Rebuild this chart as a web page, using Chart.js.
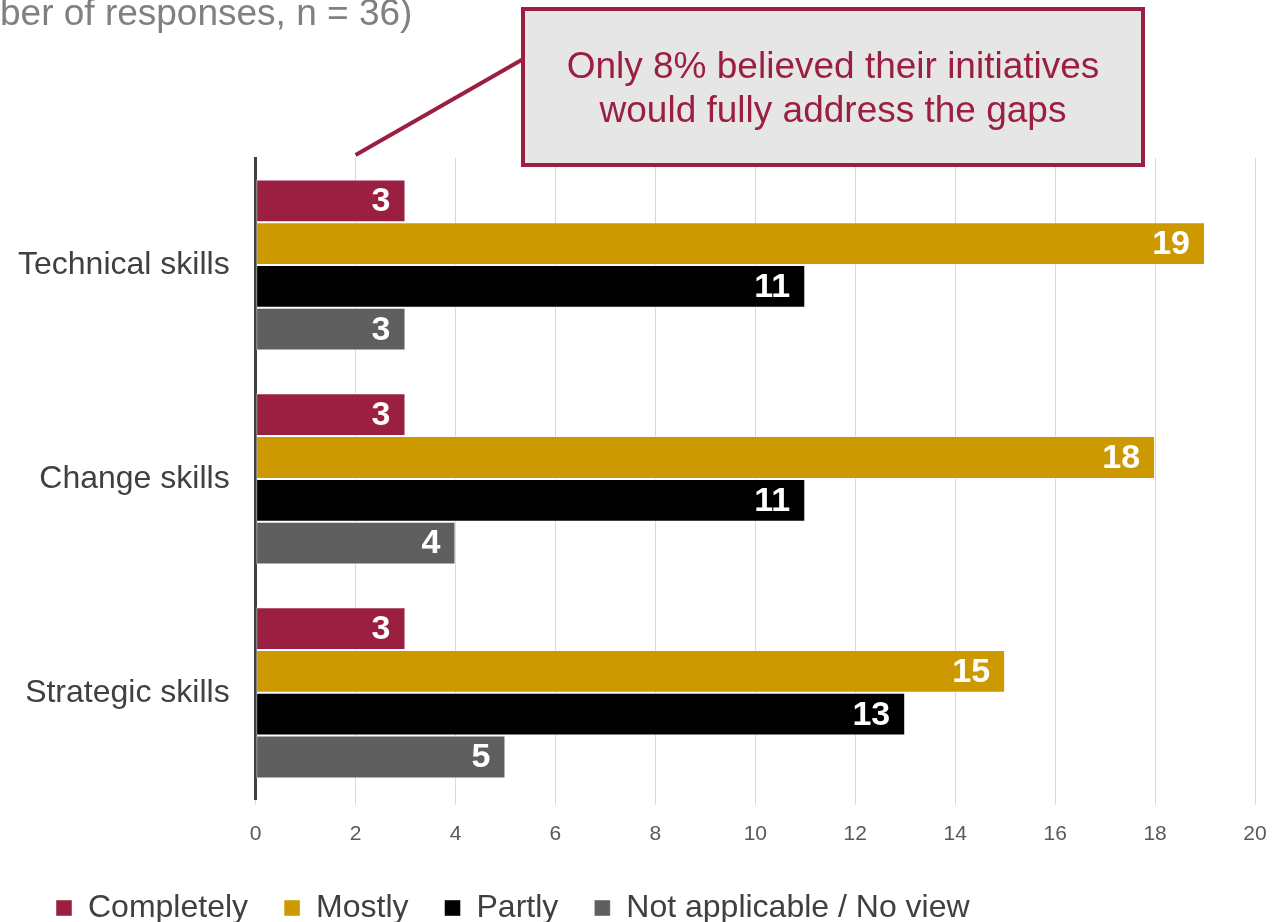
<!DOCTYPE html>
<html>
<head>
<meta charset="utf-8">
<script src="https://cdn.jsdelivr.net/npm/chart.js@4"></script>
<style>
  html, body { margin: 0; padding: 0; background: #fff; }
  #wrap { width: 1277px; height: 922px; position: relative; }
</style>
</head>
<body>
<div id="wrap"><canvas id="skillsChart"></canvas></div>
<script>
// categories and series
const categories = ['Technical skills', 'Change skills', 'Strategic skills'];
const completely = [3, 3, 3];
const mostly = [19, 18, 15];
const partly = [11, 11, 13];
const noView = [3, 4, 5];
const seriesNames = ['Completely', 'Mostly', 'Partly', 'Not applicable / No view'];
const seriesColors = ['#9b1f40', '#cc9900', '#000000', '#5f5f5f'];
const xTicks = [0, 2, 4, 6, 8, 10, 12, 14, 16, 18, 20];

const subtitleText = 'ber of responses, n = 36)';
const calloutLines = ['Only 8% believed their initiatives', 'would fully address the gaps'];
const calloutPointsAt = 2; // x value the callout line points to

const FONT = '"Liberation Sans", Arial, sans-serif';

// white numbers at the end of each bar
const barLabels = {
  id: 'barLabels',
  afterDatasetsDraw(chart) {
    const ctx = chart.ctx;
    ctx.save();
    ctx.font = 'bold 34px ' + FONT;
    ctx.fillStyle = '#ffffff';
    ctx.textAlign = 'right';
    ctx.textBaseline = 'middle';
    chart.data.datasets.forEach((ds, i) => {
      chart.getDatasetMeta(i).data.forEach((bar, j) => {
        ctx.fillText(String(ds.data[j]), bar.x - 15, bar.y + 1);
      });
    });
    ctx.restore();
  }
};

// move the legend to where it sits in the original
const legendShift = {
  id: 'legendShift',
  afterLayout(chart) {
    const lg = chart.legend;
    if (lg) {
      lg.left += 20;
      lg.right += 20;
      lg.top -= 8;
      lg.bottom -= 8;
    }
  }
};

// subtitle (cut off on the left) and the callout box
const annotations = {
  id: 'annotations',
  afterDraw(chart) {
    const ctx = chart.ctx;
    const xs = chart.scales.x;
    ctx.save();
    ctx.font = '37px ' + FONT;
    ctx.fillStyle = '#808080';
    ctx.textAlign = 'left';
    ctx.textBaseline = 'alphabetic';
    ctx.fillText(subtitleText, 0, 25);

    // pointer line
    ctx.strokeStyle = '#9b1f40';
    ctx.lineWidth = 4;
    ctx.beginPath();
    ctx.moveTo(xs.getPixelForValue(calloutPointsAt), 155);
    ctx.lineTo(525, 58);
    ctx.stroke();

    // box
    ctx.fillStyle = '#e6e6e6';
    ctx.fillRect(523, 9, 620, 156);
    ctx.strokeRect(523, 9, 620, 156);

    ctx.fillStyle = '#9b1f40';
    ctx.font = '37px ' + FONT;
    ctx.textAlign = 'center';
    ctx.textBaseline = 'middle';
    calloutLines.forEach((line, i) => {
      ctx.fillText(line, 833, 68 + i * 44);
    });
    ctx.restore();
  }
};

const datasets = [completely, mostly, partly, noView].map((vals, i) => ({
  label: seriesNames[i],
  data: vals,
  backgroundColor: seriesColors[i],
  borderColor: 'rgba(255,255,255,0.45)',
  borderWidth: 1,
  borderSkipped: false,
  barPercentage: 1.0,
  categoryPercentage: 0.8
}));

const ctx = document.getElementById('skillsChart').getContext('2d');
new Chart(ctx, {
  type: 'bar',
  data: { labels: categories, datasets: datasets },
  options: {
    indexAxis: 'y',
    responsive: true,
    maintainAspectRatio: false,
    animation: false,
    layout: { padding: { left: 0, top: 158, right: 0, bottom: -20 } },
    plugins: {
      tooltip: { enabled: false },
      legend: {
        position: 'bottom',
        align: 'start',
        labels: {
          font: { family: FONT, size: 32 },
          color: '#404040',
          boxWidth: 16,
          boxHeight: 16,
          padding: 36
        }
      }
    },
    scales: {
      x: {
        min: 0,
        max: 20,
        afterBuildTicks: (axis) => { axis.ticks = xTicks.map(v => ({ value: v })); },
        afterFit: (axis) => { axis.paddingRight = 22; },
        grid: { color: '#d9d9d9', lineWidth: 1, tickLength: 5, drawTicks: true },
        border: { display: false },
        ticks: { font: { family: FONT, size: 21 }, color: '#595959', padding: 17 }
      },
      y: {
        grid: { display: false },
        border: { color: '#404040', width: 3 },
        ticks: { font: { family: FONT, size: 32 }, color: '#404040', padding: 18 }
      }
    }
  },
  plugins: [barLabels, legendShift, annotations]
});
</script>
</body>
</html>
